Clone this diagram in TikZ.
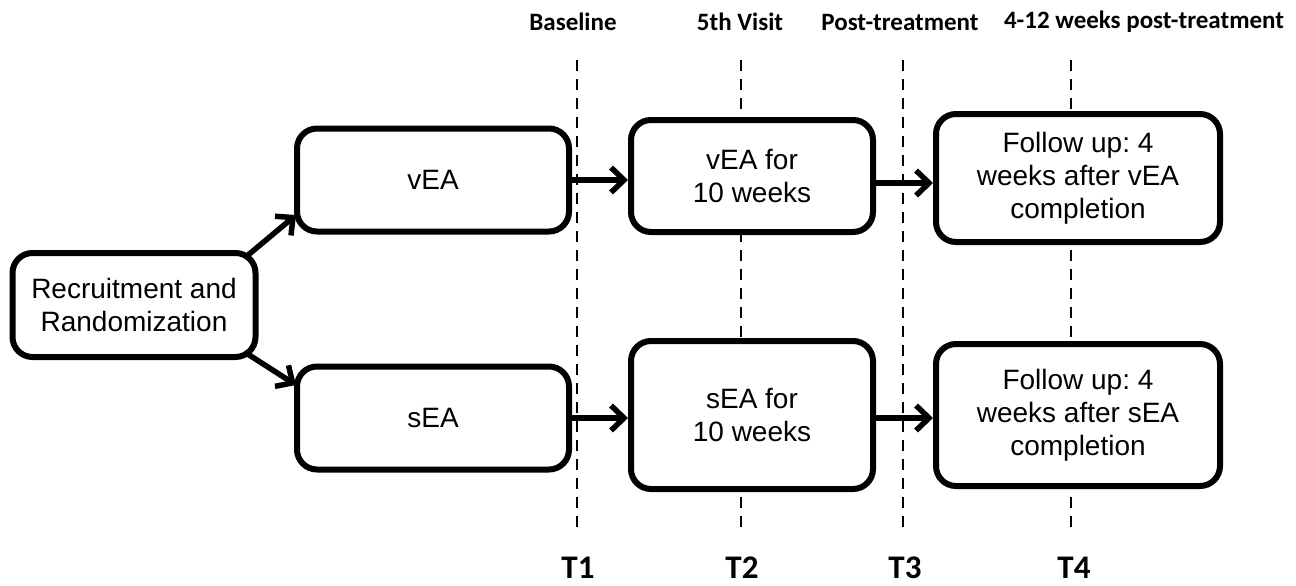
\documentclass[tikz,border=0pt]{standalone}
\usepackage{fontspec}
\setmainfont{Liberation Sans}
\newfontfamily\lblfont{Carlito}
\usetikzlibrary{arrows.meta,backgrounds}
\frenchspacing
\begin{document}
\begin{tikzpicture}[x=1pt,y=-1pt,
  box/.style={draw=black,line width=6pt,rounded corners=20pt,fill=white,align=center,
    font=\fontsize{28}{33}\selectfont\frenchspacing,inner sep=0pt},
  arr/.style={line width=5.5pt,-{Straight Barb[length=13pt,width=25pt,line width=5.5pt]}},
  tline/.style={line width=2.8pt,dash pattern=on 11pt off 8pt},
  toplbl/.style={font=\lblfont\bfseries\fontsize{25}{28}\selectfont},
  botlbl/.style={font=\lblfont\bfseries\fontsize{33}{36}\selectfont,anchor=base,inner sep=0pt}]
\useasboundingbox (0,0) rectangle (1296,586);
% nodes
\node[box,minimum width=243pt,minimum height=104pt] (rec) at (134,305) {Recruitment and\\Randomization};
\node[box,minimum width=272pt,minimum height=103pt] (vea) at (433,180) {vEA};
\node[box,minimum width=272pt,minimum height=103pt] (sea) at (433,418) {sEA};
\node[box,minimum width=242pt,minimum height=112pt] (vea10) at (752,176) {vEA for\\10 weeks};
\node[box,minimum width=242pt,minimum height=148pt] (sea10) at (752,415) {sEA for\\10 weeks};
\node[box,minimum width=284pt,minimum height=128pt] (fuv) at (1078,178) {Follow up: 4\\weeks after vEA\\completion};
\node[box,minimum width=284pt,minimum height=142pt] (fus) at (1078,415) {Follow up: 4\\weeks after sEA\\completion};
% labels
\node[toplbl] (l1) at (573,22) {Baseline};
\node[toplbl] (l2) at (740,22) {5th Visit};
\node[toplbl] (l3) at (900,22) {Post-treatment};
\node[toplbl] (l4) at (1144,22) {4-12 weeks post-treatment};
\node[botlbl] (t1) at (578,578) {T1};
\node[botlbl] (t2) at (742,578) {T2};
\node[botlbl] (t3) at (905,578) {T3};
\node[botlbl] (t4) at (1074,578) {T4};
% timeline coordinates
\coordinate (a1) at (577,60); \coordinate (b1) at (577,532);
\coordinate (a2) at (741,60); \coordinate (b2) at (741,532);
\coordinate (a3) at (903,60); \coordinate (b3) at (903,532);
\coordinate (a4) at (1071,60); \coordinate (b4) at (1071,532);
\begin{scope}[on background layer]
\draw[tline] (a1) -- (b1);
\draw[tline] (a2) -- (b2);
\draw[tline] (a3) -- (b3);
\draw[tline] (a4) -- (b4);
\end{scope}
% arrow anchor coordinates
\coordinate (r1) at ([xshift=-14pt,yshift=-8pt]rec.north east);
\coordinate (r2) at ([xshift=-14pt,yshift=8pt]rec.south east);
\coordinate (v1) at ([xshift=2pt,yshift=-35pt]vea.west);
\coordinate (s1) at ([xshift=2pt,yshift=33pt]sea.west);
\coordinate (c1) at ([yshift=-7pt]vea10.east);
\coordinate (c2) at ([yshift=-3pt]sea10.east);
% arrows
\draw[arr] (r1) -- (v1);
\draw[arr] (r2) -- (s1);
\draw[arr] (vea.east) -- (vea10.west |- vea.east);
\draw[arr] (sea.east) -- (sea10.west |- sea.east);
\draw[arr] (c1) -- (fuv.west |- c1);
\draw[arr] (c2) -- (fus.west |- c2);
\end{tikzpicture}
\end{document}
